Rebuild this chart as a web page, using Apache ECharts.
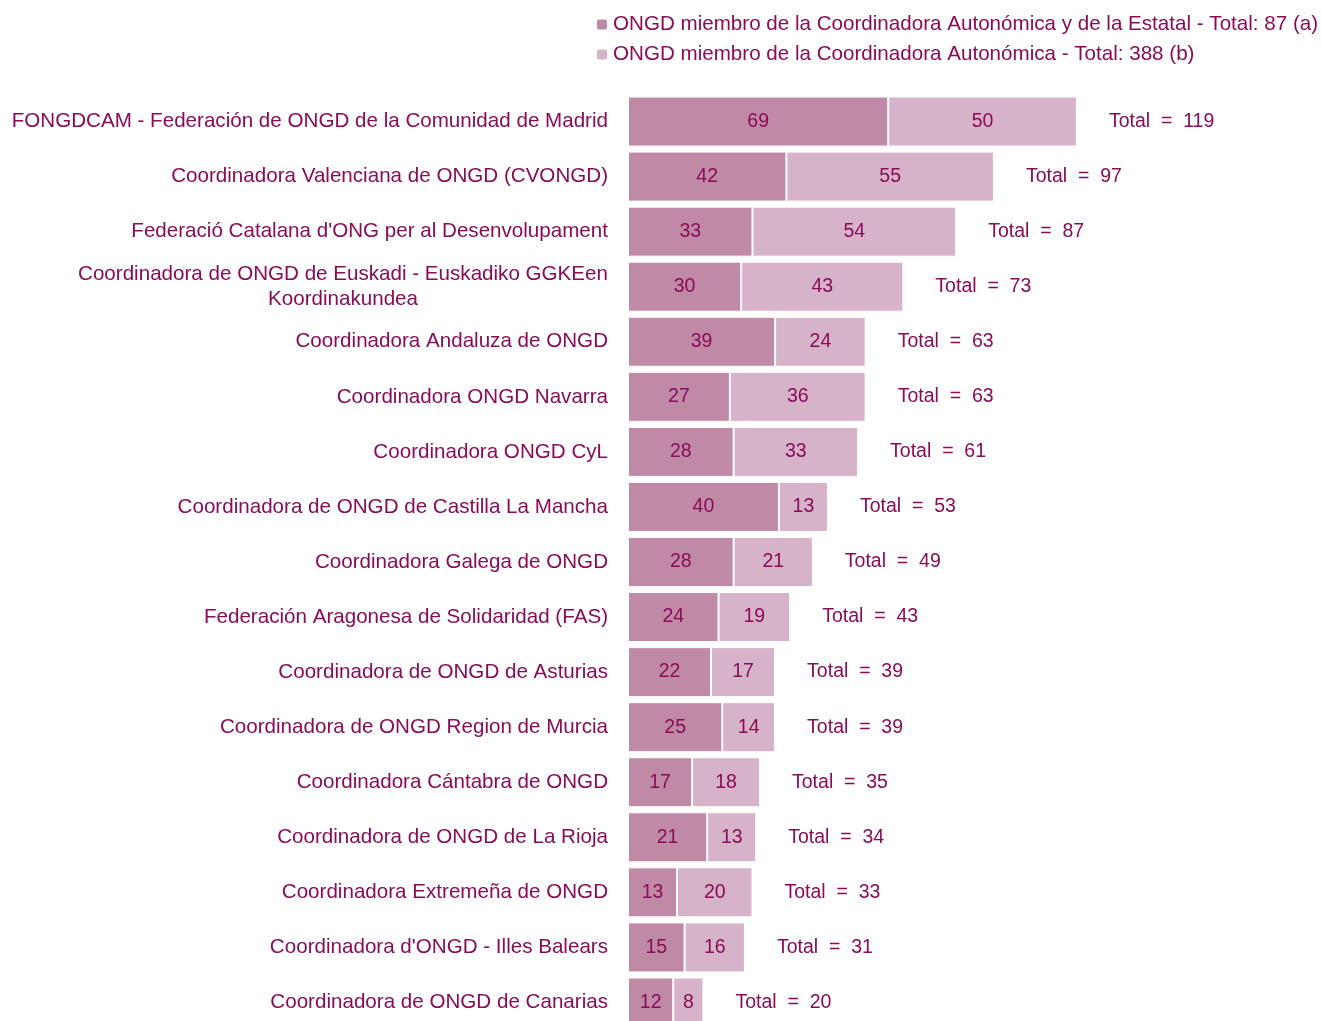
<!DOCTYPE html>
<html>
<head>
<meta charset="utf-8">
<script src="https://cdn.jsdelivr.net/npm/echarts@6/dist/echarts.min.js"></script>
<style>
  html, body { margin: 0; padding: 0; background: #fff; }
  #chart { width: 1321px; height: 1021px; }
</style>
</head>
<body>
<div id="chart"></div>
<script>
const categories = [
  'FONGDCAM - Federación de ONGD de la Comunidad de Madrid',
  'Coordinadora Valenciana de ONGD (CVONGD)',
  "Federació Catalana d'ONG per al Desenvolupament",
  'Coordinadora de ONGD de Euskadi - Euskadiko GGKEen\nKoordinakundea',
  'Coordinadora Andaluza de ONGD',
  'Coordinadora ONGD Navarra',
  'Coordinadora ONGD CyL',
  'Coordinadora de ONGD de Castilla La Mancha',
  'Coordinadora Galega de ONGD',
  'Federación Aragonesa de Solidaridad (FAS)',
  'Coordinadora de ONGD de Asturias',
  'Coordinadora de ONGD Region de Murcia',
  'Coordinadora Cántabra de ONGD',
  'Coordinadora de ONGD de La Rioja',
  'Coordinadora Extremeña de ONGD',
  "Coordinadora d'ONGD - Illes Balears",
  'Coordinadora de ONGD de Canarias'
]
const estatal = [69, 42, 33, 30, 39, 27, 28, 40, 28, 24, 22, 25, 17, 21, 13, 15, 12]
const autonomica = [50, 55, 54, 43, 24, 36, 33, 13, 21, 19, 17, 14, 18, 13, 20, 16, 8]
const seriesNames = [
  'ONGD miembro de la Coordinadora Autonómica y de la Estatal - Total: 87 (a)',
  'ONGD miembro de la Coordinadora Autonómica - Total: 388 (b)'
]

const totals = estatal.map((v, i) => v + autonomica[i])
const textColor = '#8a0c58'
const font = '"Liberation Sans", Arial, Helvetica, sans-serif'

const chart = echarts.init(document.getElementById('chart'))
chart.setOption({
  animation: false,
  textStyle: { fontFamily: font },
  legend: {
    data: seriesNames,
    orient: 'vertical',
    left: 590,
    top: 9,
    itemWidth: 12,
    itemHeight: 12,
    itemGap: 9,
    textStyle: { color: textColor, fontSize: 20.6, fontFamily: font }
  },
  grid: {
    left: 628, width: 679, top: 94, height: 936,
    containLabel: false,
    outerBoundsMode: 'none'
  },
  xAxis: {
    type: 'value',
    min: 0,
    max: 180,
    show: false
  },
  yAxis: {
    type: 'category',
    data: categories,
    inverse: true,
    axisLine: { show: false },
    axisTick: { show: false },
    axisLabel: {
      margin: 20,
      color: textColor,
      fontSize: 20.6,
      fontFamily: font,
      lineHeight: 25,
      formatter: function (v) {
        if (v.indexOf('\n') < 0) return v
        return v.split('\n').map(s => '{c|' + s + '}').join('\n')
      },
      rich: {
        c: { align: 'center', color: textColor, fontSize: 20.6, fontFamily: font, lineHeight: 25 }
      }
    }
  },
  series: [
    {
      name: seriesNames[0],
      type: 'bar',
      stack: 'total',
      barWidth: 50,
      data: estatal,
      itemStyle: { color: '#c08aa7', borderColor: '#fff', borderWidth: 1 },
      label: { show: true, position: 'inside', color: textColor, fontSize: 19.5, fontFamily: font }
    },
    {
      name: seriesNames[1],
      type: 'bar',
      stack: 'total',
      barWidth: 50,
      data: autonomica,
      itemStyle: { color: '#d6b3c8', borderColor: '#fff', borderWidth: 1 },
      label: { show: true, position: 'inside', color: textColor, fontSize: 19.5, fontFamily: font }
    },
    {
      name: 'total',
      type: 'bar',
      barWidth: 50,
      barGap: '-100%',
      z: 1,
      data: totals,
      itemStyle: { color: 'rgba(0,0,0,0)' },
      silent: true,
      label: {
        show: true,
        position: 'right',
        distance: 32,
        color: textColor,
        fontSize: 19.5,
        fontFamily: font,
        formatter: p => 'Total  =  ' + p.value
      }
    }
  ]
})
</script>
</body>
</html>
